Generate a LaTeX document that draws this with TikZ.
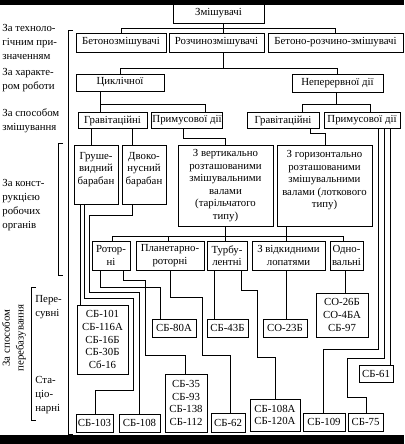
\documentclass[tikz,border=0pt]{standalone}
\usepackage{fontspec}
\setmainfont{Liberation Serif}
\begin{document}
\begin{tikzpicture}[x=0.925pt,y=-0.925pt,
  box/.style={draw, align=center, inner sep=1pt, font=\fontsize{10}{11.6}\selectfont},
  sz/.style 2 args={minimum width=#1*0.925pt, minimum height=#2*0.925pt},
  lbl/.style={align=left, anchor=west, inner sep=0pt, font=\fontsize{10}{12.8}\selectfont},
  line width=0.75pt]
\useasboundingbox (0,0) rectangle (404,444);
% levels
\node[box, sz={91}{19}] (zm) at (218.5,13.5) {Змішувачі};
\node[box, sz={90}{19}] (beton) at (121,42.5) {Бетонозмішувачі};
\node[box, sz={95}{19}] (rozch) at (216.5,42.5) {Розчинозмішувачі};
\node[box, sz={135}{19}] (brz) at (335.5,42.5) {Бетоно-розчино-змішувачі};
\node[box, sz={88}{17}] (cykl) at (120,82.5) {Циклічної};
\node[box, sz={91}{18}] (neper) at (337.5,83) {Неперервної дії};
\node[box, sz={69}{16}] (gravL) at (112.5,120.5) {Гравітаційні};
\node[box, sz={68}{16}] (prymL) at (187,120.5) {Примусової дії};
\node[box, sz={72}{16}] (gravR) at (283,120.5) {Гравітаційні};
\node[box, sz={76}{16}] (prymR) at (362,120.5) {Примусової дії};
\node[box, sz={44}{59}] (grush) at (96,174.5) {Груше-\\видний\\барабан\\ };
\node[box, sz={44}{59}] (dvoko) at (144,174.5) {Двоко-\\нусний\\барабан\\ };
\node[box, sz={95}{81}] (vert) at (225.5,185.5) {З вертикально\\розташованими\\змішувальними\\валами\\(тарільчатого\\типу)};
\node[box, sz={95}{81}] (horiz) at (324.5,185.5) {З горизонтально\\розташованими\\змішувальними\\валами (лоткового\\типу)\\ };
\node[box, sz={38}{29}] (rotor) at (111,255.5) {Ротор-\\ні};
\node[box, sz={68}{29}] (planet) at (170,255.5) {Планетарно-\\роторні};
\node[box, sz={40}{29}] (turb) at (227,255.5) {Турбу-\\лентні};
\node[box, sz={73}{29}] (vidk) at (288.5,255.5) {З відкидними\\лопатями};
\node[box, sz={33}{29}] (odno) at (346.5,255.5) {Одно-\\вальні};
% models
\node[box, sz={51}{69}] (m101) at (102.5,339.5) {СБ-101\\СБ-116А\\СБ-16Б\\СБ-30Б\\Сб-16};
\node[box, sz={44}{18}] (m80) at (174,328) {СБ-80А};
\node[box, sz={41}{18}] (m43) at (227.5,328) {СБ-43Б};
\node[box, sz={44}{18}] (m23) at (285,328) {СО-23Б};
\node[box, sz={52}{44}] (m26) at (342,315) {СО-26Б\\СО-4БА\\СБ-97};
\node[box, sz={34}{17}] (m61) at (376,373.5) {СБ-61};
\node[box, sz={42}{58}] (m35) at (186,403) {СБ-35\\СБ-93\\СБ-138\\СБ-112};
\node[box, sz={37}{18}] (m103) at (94.5,423) {СБ-103};
\node[box, sz={41}{18}] (m108) at (139.5,423) {СБ-108};
\node[box, sz={34}{19}] (m62) at (228,422.5) {СБ-62};
\node[box, sz={50}{32}] (m108a) at (275,415) {СБ-108А\\СБ-120А};
\node[box, sz={42}{18}] (m109) at (324,422) {СБ-109};
\node[box, sz={35}{18}] (m75) at (365.5,422) {СБ-75};
% labels
\node[lbl] (t1) at (2,42) {За техноло-\\гічним при-\\значенням};
\node[lbl] (t2) at (2,80) {За характе-\\ром роботи};
\node[lbl] (t3) at (2,121) {За способом\\змішування};
\node[lbl] (t4) at (2,205) {За конст-\\рукцією\\робочих\\органів};
\node[lbl] (t5) at (35,307) {Пере-\\сувні};
\node[lbl] (t6) at (35,395) {Ста-\\ціо-\\нарні};
\node[lbl, rotate=90, anchor=center, align=center] (t7) at (14,338) {За способом\\перебазування};
% brackets
\draw (73,30) -- (68,30) -- (68,434) -- (73,434);
\draw (63,143) -- (58,143) -- (58,275) -- (63,275);
\draw (36,287) -- (31,287) -- (31,420) -- (36,420);
% upper connectors
\draw (zm.south -| 223,0) -- (rozch.north -| 223,0);
\draw (beton.north) -- (beton.north |- 0,28) -| (brz.north);
\draw (rozch.south -| 223,0) -- ++(0,16);
\draw (cykl.north) -- (cykl.north |- 0,68) -| (neper.north);
\draw (cykl.south -| 100,0) -- (gravL.north -| 100,0);
\draw (cykl.south -| 100,0) |- (205,104) -- (prymL.north -| 205,0);
\draw (neper.south -| 336,0) -- ++(0,12);
\draw (gravR.north -| 302,0) |- (370,104) -- (prymR.north -| 370,0);
\draw (gravL.south -| 91,0) -- (grush.north -| 91,0);
\draw (gravL.south -| 132,0) -- (dvoko.north -| 132,0);
\draw (prymL.south -| 183,0) |- (225,138) -- (vert.north -| 225,0);
\draw (gravR.south -| 310,0) |- (325,133) -- (horiz.north -| 325,0);
% middle bus
\draw (vert.south -| 225,0) -- (turb.north -| 225,0);
\draw (horiz.south -| 286,0) -- (vidk.north -| 286,0);
\draw (rotor.north -| 112,0) |- (343,236) -- (odno.north -| 343,0);
\draw (planet.north -| 168,0) -- ++(0,-5);
% models
\draw (grush.south -| 80,0) -- (m101.north -| 80,0);
\draw (grush.south -| 84,0) |- (133,298) |- (95,390) -- (m103.north -| 95,0);
\draw (dvoko.south -| 132,0) |- (89,215) |- (139,292) -- (m108.north -| 139,0);
\draw (rotor.south -| 100,0) |- (160,287) -- (m80.north -| 160,0);
\draw (rotor.south -| 123,0) |- (145,280) |- (185,355) -- (m35.north -| 185,0);
\draw (planet.south -| 170,0) |- (202,297) |- (230,355) -- (m62.north -| 230,0);
\draw (turb.south -| 214,0) -- (m43.north -| 214,0);
\draw (turb.south -| 241,0) |- (257,290) |- (275,357) -- (m108a.north);
\draw (vidk.south -| 286,0) -- (m23.north -| 286,0);
\draw (odno.south -| 345,0) -- (m26.north -| 345,0);
\draw (prymR.south -| 378,0) |- (323,349) -- (m109.north -| 323,0);
\draw (prymR.south -| 384,0) |- (347,358) |- (366,397) -- (m75.north -| 366,0);
\draw (prymR.south -| 390,0) -- (m61.north -| 390,0);
% scan edges
\fill (0,0) rectangle (404,5);
\fill (0,435) rectangle (404,444);
\end{tikzpicture}
\end{document}
